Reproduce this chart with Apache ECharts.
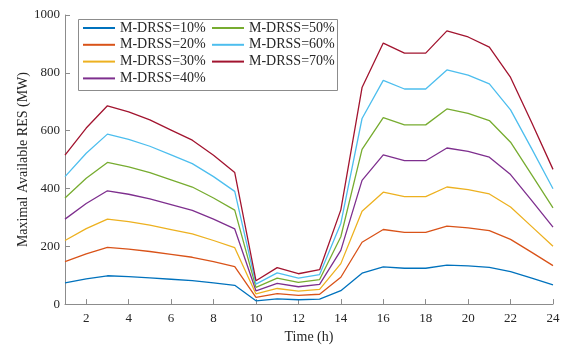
<!DOCTYPE html>
<html>
<head>
<meta charset="utf-8">
<script src="https://cdn.jsdelivr.net/npm/echarts@6/dist/echarts.min.js"></script>
<style>html,body{margin:0;padding:0;background:#fff}#c{width:568px;height:349px}</style>
</head>
<body>
<div id="c"></div>
<script>
const hours = ['1','2','3','4','5','6','7','8','9','10','11','12','13','14','15','16','17','18','19','20','21','22','23','24'];
const names = ['M-DRSS=10%','M-DRSS=20%','M-DRSS=30%','M-DRSS=40%','M-DRSS=50%','M-DRSS=60%','M-DRSS=70%'];
const s10 = [73.5, 87, 98, 95, 91, 86, 81, 73.5, 65, 11.5, 18, 15, 17, 46.5, 107, 129, 124, 124, 135, 132, 127, 112, 89.5, 66.5];
const s20 = [147, 174, 196, 190, 182, 172, 162, 147, 130, 23, 36, 30, 34, 93, 214, 258, 248, 248, 270, 264, 254, 224, 179, 133];
const s30 = [220, 261, 294, 285, 273, 258, 243, 220, 195, 35, 54, 45, 51, 140, 321, 387, 372, 372, 405, 396, 381, 336, 268, 200];
const s40 = [294, 348, 392, 380, 364, 344, 324, 294, 260, 46, 72, 60, 68, 186, 428, 516, 496, 496, 540, 528, 508, 448, 358, 266];
const s50 = [367, 435, 490, 475, 455, 430, 405, 367, 325, 58, 90, 75, 85, 233, 535, 645, 620, 620, 675, 660, 635, 560, 447, 333];
const s60 = [441, 522, 588, 570, 546, 516, 486, 441, 390, 69, 108, 90, 102, 279, 642, 774, 744, 744, 810, 792, 762, 672, 537, 399];
const s70 = [515, 609, 686, 665, 637, 602, 567, 515, 455, 81, 126, 105, 119, 326, 749, 903, 868, 868, 945, 924, 889, 784, 627, 466];
const yTicks = [0, 200, 400, 600, 800, 1000];

const colors = ['#0072BD','#D95319','#EDB120','#7E2F8E','#77AC30','#4DBEEE','#A2142F'];
const values = [s10, s20, s30, s40, s50, s60, s70];
const font = 'Liberation Serif';
const chart = echarts.init(document.getElementById('c'), null, {renderer: 'canvas'});
const legendText = {fontFamily: font, fontSize: 14, color: '#262626', lineHeight: 14};
const legendBase = {
  orient: 'vertical', top: 21, z: 20, padding: 0, icon: 'rect',
  itemWidth: 32, itemHeight: 2, itemGap: 2.8, textStyle: legendText
};
chart.setOption({
  animation: false,
  color: colors,
  grid: {left: 65, right: 15, top: 15, bottom: 42, containLabel: false},
  graphic: [{
    type: 'rect', left: 78, top: 19, z: 10,
    shape: {width: 259, height: 71},
    style: {fill: 'rgba(255,255,255,1)', stroke: '#8c8c8c', lineWidth: 1}
  }],
  legend: [
    Object.assign({data: names.slice(0, 4), left: 83}, legendBase),
    Object.assign({data: names.slice(4), left: 212}, legendBase)
  ],
  xAxis: {
    type: 'category', data: hours, boundaryGap: false,
    name: 'Time (h)', nameLocation: 'middle', nameGap: 25,
    nameTextStyle: {fontFamily: font, fontSize: 14, color: '#262626'},
    axisLine: {show: true, lineStyle: {color: '#8c8c8c', width: 1}},
    axisTick: {show: true, inside: true, length: 5, interval: (i) => i % 2 === 1, lineStyle: {color: '#8c8c8c'}},
    axisLabel: {interval: (i) => i % 2 === 1, fontFamily: font, fontSize: 13, color: '#262626', margin: 8},
    splitLine: {show: false}
  },
  yAxis: {
    type: 'value', min: yTicks[0], max: yTicks[yTicks.length - 1], interval: 200,
    name: 'Maximal Available RES (MW)', nameLocation: 'middle', nameGap: 35, nameMoveOverlap: false,
    nameTextStyle: {fontFamily: font, fontSize: 14, color: '#262626'},
    axisLine: {show: true, lineStyle: {color: '#8c8c8c', width: 1}},
    axisTick: {show: true, inside: true, length: 5, lineStyle: {color: '#8c8c8c'}},
    axisLabel: {fontFamily: font, fontSize: 13, color: '#262626', margin: 5, formatter: (v) => String(v)},
    splitLine: {show: false}
  },
  series: values.map((v, i) => ({
    name: names[i], type: 'line', data: v, symbol: 'none',
    lineStyle: {width: 1.3, color: colors[i]}, itemStyle: {color: colors[i]}
  }))
});
</script>
</body>
</html>
